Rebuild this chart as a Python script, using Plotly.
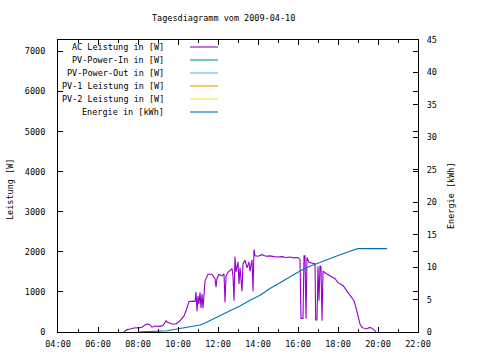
import plotly.graph_objects as go
import pandas as pd

DAY = "2009-04-10"
TITLE = "Tagesdiagramm vom 2009-04-10"
SERIES_NAMES = ["AC Leistung in [W]", "PV-Power-In in [W]", "PV-Power-Out in [W]",
                "PV-1 Leistung in [W]", "PV-2 Leistung in [W]", "Energie in [kWh]"]
SERIES_COLORS = ["#9400D3", "#009E73", "#56B4E9", "#E69F00", "#F0E442", "#0072B2"]

ac_time = ["07:18", "07:27", "07:36", "07:48", "08:06", "08:12", "08:24", "08:33", "08:42", "08:51",
           "09:06", "09:15", "09:24", "09:30", "09:42", "09:54", "10:06", "10:18", "10:24", "10:33",
           "10:45", "10:51", "10:54", "10:57", "11:00", "11:03", "11:06", "11:09", "11:12", "11:15",
           "11:21", "11:30", "11:42", "11:51", "11:54", "11:57", "12:03", "12:12", "12:18", "12:21",
           "12:24", "12:30", "12:42", "12:45", "12:48", "12:51", "12:54", "13:00", "13:03", "13:06",
           "13:12", "13:15", "13:21", "13:27", "13:33", "13:36", "13:42", "13:45", "13:48", "13:51",
           "14:00", "14:12", "14:24", "14:36", "14:48", "15:00", "15:12", "15:24", "15:36", "15:48",
           "16:00", "16:06", "16:09", "16:15", "16:18", "16:21", "16:24", "16:27", "16:33", "16:42",
           "16:51", "16:53", "16:57", "17:00", "17:03", "17:06", "17:09", "17:12", "17:15", "17:24",
           "17:36", "17:51", "18:00", "18:15", "18:27", "18:39", "18:48", "18:54", "19:00", "19:06",
           "19:12", "19:24", "19:36", "19:48", "19:54"]
ac_power = [0, 60, 75, 100, 110, 120, 190, 200, 120, 150,
            140, 160, 280, 235, 200, 200, 280, 400, 530, 760,
            770, 760, 1000, 520, 900, 700, 990, 600, 950, 595,
            1270, 1440, 1440, 1330, 1115, 1330, 1440, 1400, 1450, 740,
            1400, 1490, 1580, 1400, 780, 1880, 1500, 1750, 1200, 1600,
            1020, 1700, 1790, 1600, 1750, 1520, 1800, 1020, 2060, 1900,
            1890, 1930, 1890, 1900, 1880, 1870, 1880, 1860, 1870, 1850,
            1860, 1810, 340, 340, 1900, 1900, 330, 1860, 1740, 1710,
            1700, 300, 300, 1640, 780, 1650, 1620, 280, 1520, 1460,
            1410, 1330, 1230, 1160, 1020, 885, 780, 610, 400, 200,
            115, 75, 115, 60, 0]

en_time = ["08:00", "08:30", "09:27", "09:57", "10:30", "10:57", "11:06", "11:21", "11:36", "12:06",
           "12:36", "13:06", "13:36", "14:06", "14:36", "15:06", "15:36", "16:06", "16:36", "17:06",
           "17:36", "18:06", "18:36", "18:54", "19:00", "20:27"]
en_kwh = [0, 0.05, 0.2, 0.46, 0.72, 0.96, 1.07, 1.38, 1.73, 2.5,
          3.26, 4.0, 4.9, 5.66, 6.7, 7.6, 8.5, 9.4, 10.15, 10.76,
          11.4, 11.9, 12.45, 12.8, 12.85, 12.85]

X_RANGE = ["04:00", "22:00"]
Y_RANGE = [0, 7285]
Y2_RANGE = [0, 45]


def ts(times):
    return pd.to_datetime([f"{DAY} {t}" for t in times])


FONT = dict(family="DejaVu Sans Mono", size=8.5, color="black")

W, H = 480, 360
ML, MR, MT, MB = 58, 62, 40, 28

fig = go.Figure()
fig.add_trace(go.Scatter(x=ts(ac_time), y=ac_power, mode="lines", name=SERIES_NAMES[0],
                         line=dict(color=SERIES_COLORS[0], width=1.1), yaxis="y"))
fig.add_trace(go.Scatter(x=ts(en_time), y=en_kwh, mode="lines", name=SERIES_NAMES[5],
                         line=dict(color=SERIES_COLORS[5], width=1.1), yaxis="y2"))

axis_common = dict(showgrid=False, zeroline=False, showline=True, linecolor="black", linewidth=1,
                   ticks="inside", ticklen=5, tickcolor="black", tickfont=FONT, automargin=False)

fig.update_layout(
    width=W, height=H,
    margin=dict(l=ML, r=MR, t=MT, b=MB),
    paper_bgcolor="white", plot_bgcolor="white",
    showlegend=False,
    font=FONT,
    xaxis=dict(axis_common, type="date", range=list(ts(X_RANGE)), mirror="ticks",
               dtick=2 * 3600 * 1000, tick0=f"{DAY} 04:00", tickformat="%H:%M",
               ticklabelstandoff=4,
               minor=dict(dtick=3600 * 1000, ticks="inside", ticklen=3, tickcolor="black")),
    yaxis=dict(axis_common, range=Y_RANGE, dtick=1000, mirror="ticks", ticklabelstandoff=10),
    yaxis2=dict(axis_common, range=Y2_RANGE, dtick=5, overlaying="y", side="right",
                ticklabelstandoff=6),
)

pw, ph = W - ML - MR, H - MT - MB


def px(x):
    return (x - ML) / pw


def py(y):
    return (H - MB - y) / ph


def label(text, x, y, xanchor="center", angle=0):
    return dict(text=text, x=px(x), y=py(y), xref="paper", yref="paper", showarrow=False,
                xanchor=xanchor, yanchor="middle", textangle=angle, font=FONT)


annotations = [
    label(TITLE, 223, 18),
    label("Leistung [W]", 10, 190, angle=-90),
    label("Energie [kWh]", 451, 195, angle=-90),
]
shapes = []
for i, (name, col) in enumerate(zip(SERIES_NAMES, SERIES_COLORS)):
    yrow = 47 + 13 * i
    annotations.append(label(name, 166, yrow, xanchor="right"))
    shapes.append(dict(type="line", x0=px(190), x1=px(218), y0=py(yrow), y1=py(yrow),
                       xref="paper", yref="paper", line=dict(color=col, width=1.1)))

fig.update_layout(annotations=annotations, shapes=shapes)
fig.write_html("out.html", config={"displayModeBar": False},
               post_script="document.body.style.margin='0';")
